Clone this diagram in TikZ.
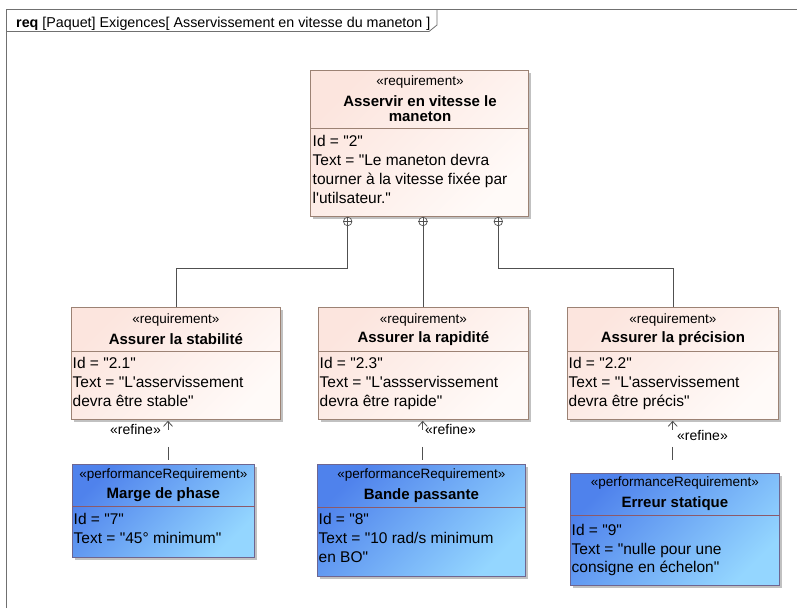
\documentclass[tikz,border=0pt]{standalone}
\usepackage{fontspec}
\setmainfont{Liberation Sans}
\newfontfamily\arialf{Liberation Sans}
\usetikzlibrary{arrows.meta,shadows,calc}
\definecolor{frameC}{HTML}{707070}
\definecolor{reqBorder}{HTML}{9C8274}
\definecolor{reqA}{HTML}{FCE5DE}
\definecolor{reqB}{HTML}{FFFAF8}
\definecolor{perfBorder}{HTML}{6E6690}
\definecolor{perfSep}{HTML}{8C5A6A}
\definecolor{perfA}{HTML}{4F82EC}
\definecolor{perfB}{HTML}{94D6FF}
\definecolor{connC}{HTML}{505050}
\tikzset{
  boxbase/.style={rectangle, anchor=north west, inner sep=0pt, line width=0.8pt,
     drop shadow={shadow xshift=3pt, shadow yshift=-3pt, fill=black!30, opacity=0.8}},
  reqbox/.style={boxbase, draw=reqBorder, top color=reqA, bottom color=reqB, shading angle=45},
  perfbox/.style={boxbase, draw=perfBorder, top color=perfA, bottom color=perfB, shading angle=45},
  stereo/.style={inner sep=0pt, font=\arialf\fontsize{13.5}{15}\selectfont},
  titletxt/.style={inner sep=0pt, align=center, font=\arialf\fontsize{15}{15}\selectfont\bfseries},
  attrtxt/.style={inner sep=0pt, anchor=north west, align=left, font=\arialf\fontsize{15.5}{18.7}\selectfont},
  reftxt/.style={inner sep=0pt, font=\arialf\fontsize{14}{15}\selectfont},
  conn/.style={draw=connC, line width=0.8pt},
  refine/.style={draw=connC, line width=0.8pt, dash pattern=on 13pt off 17pt, dash phase=5pt,
     {Straight Barb[length=5pt,width=9pt]}-},
  plus/.style={circle, draw=connC, fill=white, inner sep=0pt, minimum size=8.5pt, line width=0.7pt},
}
\begin{document}
\begin{tikzpicture}[x=1pt,y=-1pt]
\useasboundingbox (0,0) rectangle (797,608);
\fill[white] (0,0) rectangle (797,608);
% frame
\draw[frameC, line width=1pt] (6,608) -- (6,9) -- (797,9);
\draw[frameC, line width=0.8pt] (6,31.5) -- (429,31.5) -- (437,25) -- (437,9);
\node[anchor=base west, inner sep=0pt, font=\arialf\fontsize{14.3}{15}\selectfont] (hdr) at (16,27.5)
  {\textbf{req} [Paquet] Exigences[ Asservissement en vitesse du maneton ]};

% top requirement
\node[reqbox, minimum width=218pt, minimum height=146pt] (T) at (310,70) {};
\draw[reqBorder, line width=0.8pt] (T.north west |- 0,128) -- (T.north east |- 0,128);
\node[stereo] (Ts) at (420,82) {«requirement»};
\node[titletxt] (Tt) at (420,108.2) {Asservir en vitesse le\\maneton};
\node[attrtxt] (Ta) at (312.5,135.5) {Id = "2"\\Text = "Le maneton devra\\tourner à la vitesse fixée par\\l'utilsateur."};

% requirement boxes
\node[reqbox, minimum width=209pt, minimum height=112pt] (R1) at (71,307) {};
\node[reqbox, minimum width=210pt, minimum height=112pt] (R2) at (318,307) {};
\node[reqbox, minimum width=211pt, minimum height=112pt] (R3) at (567,307) {};
\foreach \r in {R1,R2,R3}{
  \draw[reqBorder, line width=0.8pt] (\r.north west |- 0,351) -- (\r.north east |- 0,351);
  \node[stereo] (\r s) at (\r.north |- 0,320) {«requirement»};
}
\node[titletxt] (R1t) at (R1.north |- 0,338.6) {Assurer la stabilité};
\node[titletxt] (R2t) at (R2.north |- 0,338.6) {Assurer la rapidité};
\node[titletxt] (R3t) at (R3.north |- 0,338.6) {Assurer la précision};
\node[attrtxt] (R1a) at (72.5,357.5) {Id = "2.1"\\Text = "L'asservissement\\devra être stable"};
\node[attrtxt] (R2a) at (319.5,357.5) {Id = "2.3"\\Text = "L'assservissement\\devra être rapide"};
\node[attrtxt] (R3a) at (568.5,357.5) {Id = "2.2"\\Text = "L'asservissement\\devra être précis"};

% performance boxes
\node[perfbox, minimum width=182pt, minimum height=93pt] (B1) at (72,464) {};
\node[perfbox, minimum width=208pt, minimum height=112pt] (B2) at (317,464) {};
\node[perfbox, minimum width=209pt, minimum height=112pt] (B3) at (570,473) {};
\draw[perfSep, line width=0.8pt] (B1.north west |- 0,506) -- (B1.north east |- 0,506);
\draw[perfSep, line width=0.8pt] (B2.north west |- 0,507) -- (B2.north east |- 0,507);
\draw[perfSep, line width=0.8pt] (B3.north west |- 0,515) -- (B3.north east |- 0,515);
\node[stereo] (B1s) at (B1.north |- 0,475) {«performanceRequirement»};
\node[stereo] (B2s) at (B2.north |- 0,475) {«performanceRequirement»};
\node[stereo] (B3s) at (B3.north |- 0,483) {«performanceRequirement»};
\node[titletxt] (B1t) at (B1.north |- 0,494.5) {Marge de phase};
\node[titletxt] (B2t) at (B2.north |- 0,495.5) {Bande passante};
\node[titletxt] (B3t) at (B3.north |- 0,503.5) {Erreur statique};
\node[attrtxt] (B1a) at (73.5,513.5) {Id = "7"\\Text = "45° minimum"};
\node[attrtxt] (B2a) at (318.5,513.5) {Id = "8"\\Text = "10 rad/s minimum\\en BO"};
\node[attrtxt] (B3a) at (571.5,524) {Id = "9"\\Text = "nulle pour une\\consigne en échelon"};

% containment connectors
\node[plus] (P1) at (347.7,221.5) {};
\node[plus] (P2) at (423,221.5) {};
\node[plus] (P3) at (498.3,221.5) {};
\foreach \p in {P1,P2,P3}{
  \draw[connC, line width=0.6pt] (\p.north) -- (\p.south) (\p.west) -- (\p.east);
}
\coordinate (H) at (0,268);
\draw[conn] (P1.south) -- (P1.south |- H) -| (R1.north);
\draw[conn] (P2.south) -- (R2.north -| P2.south);
\draw[conn] (P3.south) -- (P3.south |- H) -| (R3.north);

% refine connectors
\draw[refine] ($(R1.south -| 168,0)+(0,1)$) -- (B1.north -| 168,0);
\draw[refine] ($(R2.south -| 422.7,0)+(0,1)$) -- (B2.north -| 422.7,0);
\draw[refine] ($(R3.south -| 672.7,0)+(0,1)$) -- (B3.north -| 672.7,0);
\node[reftxt, anchor=east] (L1) at (161,429) {«refine»};
\node[reftxt, anchor=west] (L2) at (425,429) {«refine»};
\node[reftxt, anchor=west] (L3) at (677,435) {«refine»};
\end{tikzpicture}
\end{document}
